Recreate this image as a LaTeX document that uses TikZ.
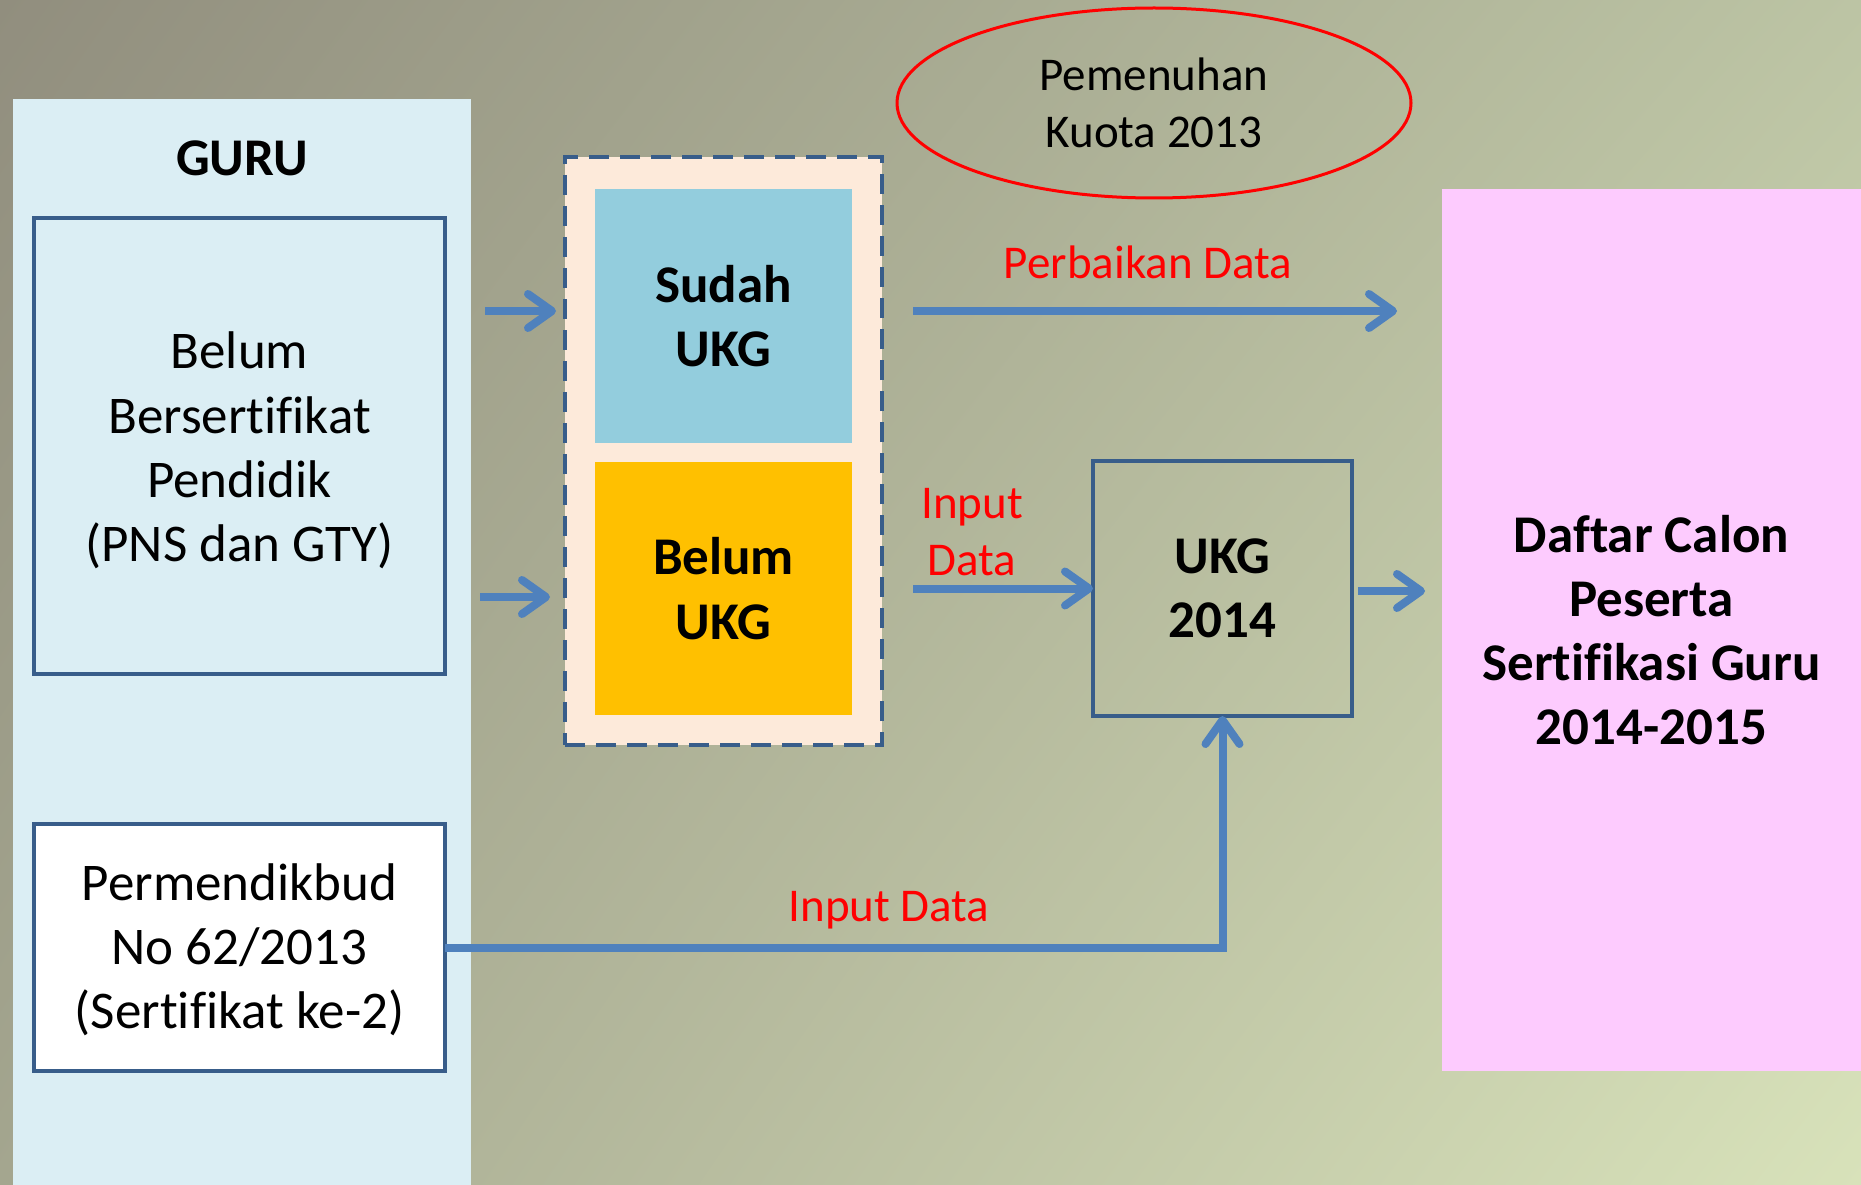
\documentclass[tikz,border=0pt]{standalone}
\usepackage{fontspec}
\setmainfont{Carlito}[Ligatures=NoCommon]
\usetikzlibrary{arrows.meta,shapes.geometric,shadings}
\definecolor{bgUL}{HTML}{918E7E}
\definecolor{bgUR}{HTML}{BCC4A4}
\definecolor{bgLL}{HTML}{A4A68F}
\definecolor{bgLR}{HTML}{D8E2BA}
\definecolor{panelblue}{HTML}{DBEEF4}
\definecolor{peach}{HTML}{FDEADA}
\definecolor{sudahc}{HTML}{93CDDD}
\definecolor{belumc}{HTML}{FFC000}
\definecolor{pinkc}{HTML}{FDCBFE}
\definecolor{darkb}{HTML}{385D8A}
\definecolor{arrowb}{HTML}{4F81BD}
\newcommand\bxfont{\fontsize{53}{64.2}\selectfont}
\newcommand\lbfont{\fontsize{47}{57.5}\selectfont}
\tikzset{
  plainbox/.style={inner sep=0pt, outer sep=0pt, align=center, font=\bxfont},
  bluebox/.style={plainbox, draw=darkb, line width=4.5pt},
  boldbox/.style={plainbox, font=\bxfont\bfseries},
  dashbox/.style={plainbox, draw=darkb, line width=4.5pt, dash pattern=on 20pt off 11pt, fill=peach},
  arr/.style={draw=arrowb, line width=8pt, -{Straight Barb[length=24pt,width=34pt,line cap=round,line join=round]}},
  lab/.style={text=red, font=\lbfont, align=center, inner sep=0pt}
}
\begin{document}
\begin{tikzpicture}[x=1pt,y=-1pt]
\useasboundingbox (0,0) rectangle (1861,1185);
\shade[upper left=bgUL, upper right=bgUR, lower left=bgLL, lower right=bgLR] (0,0) rectangle (1861,1185);
% left panel
\node[plainbox, fill=panelblue, minimum width=458, minimum height=1090, anchor=north west] (gurupanel) at (13,99) {};
\node[plainbox, font=\bxfont\bfseries] (guru) at (242,158) {GURU};
\node[bluebox, minimum width=411, minimum height=456] (belum) at (239.5,446) {};
\node[plainbox] (belumtxt) at ([yshift=-4.5pt]belum.center) {Belum\\Bersertifikat\\Pendidik\\(PNS dan GTY)};
\node[bluebox, fill=white, minimum width=411, minimum height=247] (perm) at (239.5,947.5) {};
\node[plainbox] (permtxt) at ([yshift=-2.5pt]perm.center) {Permendikbud\\No 62/2013\\(Sertifikat ke-2)};
% dashed group
\node[dashbox, minimum width=317, minimum height=588] (grp) at (723.5,451) {};
\node[boldbox, fill=sudahc, minimum width=257, minimum height=254] (sudah) at (723.5,316) {Sudah\\UKG};
\node[boldbox, fill=belumc, minimum width=257, minimum height=253] (belumukg) at (723.5,588.5) {Belum\\UKG};
% ellipse
\node[ellipse, draw=red, line width=3pt, minimum width=514, minimum height=190, inner sep=0pt, align=center, font=\lbfont] (kuota) at (1154,103) {Pemenuhan\\Kuota 2013};
% UKG 2014
\node[bluebox, font=\bxfont\bfseries, minimum width=259, minimum height=255] (ukg) at (1222.5,588.5) {UKG\\2014};
% pink
\node[boldbox, fill=pinkc, minimum width=419, minimum height=882] (daftar) at (1651.5,630) {Daftar Calon\\Peserta\\Sertifikasi Guru\\2014-2015};
% labels
\node[lab] (perbLbl) at (1148,262) {Perbaikan Data};
\node[lab] (inLbl) at (972,532) {Input\\Data};
\node[lab] (inLbl2) at (889,910) {Input Data};
% coordinates
\coordinate (a1s) at (485,311);
\coordinate (a1e) at (556,311);
\coordinate (a2s) at (480,597);
\coordinate (a2e) at (550,597);
\coordinate (pbs) at (913,311);
\coordinate (pbe) at (1397,311);
\coordinate (ins) at (913,588.5);
\coordinate (o1s) at (1358,591);
\coordinate (o1e) at (1425,591);
% arrows
\draw[arr] (a1s) -- (a1e);
\draw[arr] (a2s) -- (a2e);
\draw[arr] (pbs) -- (pbe);
\draw[arr] (ins) -- (ukg.west);
\draw[arr] (o1s) -- (o1e);
\draw[arr] (perm.east) -| (ukg.south);
\end{tikzpicture}
\end{document}
